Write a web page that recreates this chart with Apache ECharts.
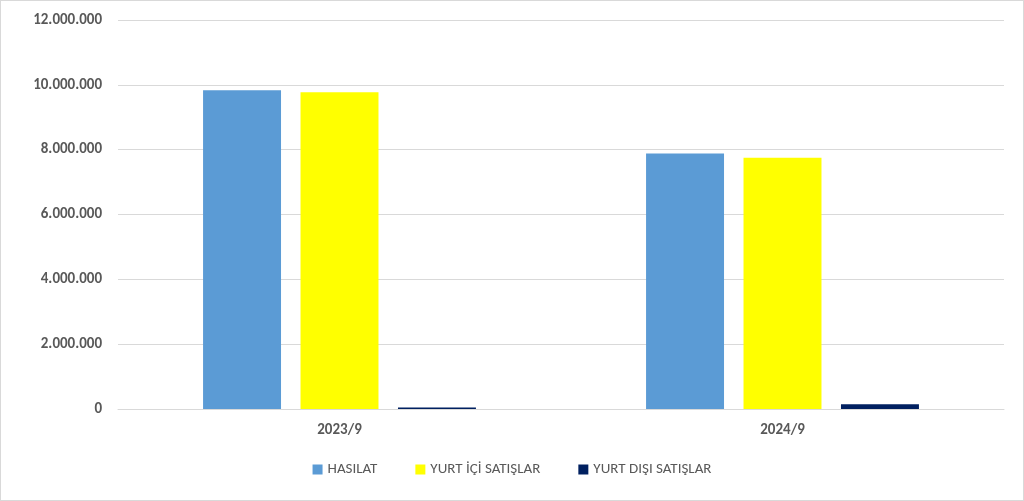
<!DOCTYPE html><html><head><meta charset="utf-8"><script src="https://cdn.jsdelivr.net/npm/echarts@6/dist/echarts.min.js"></script>
<style>body{margin:0}#c{width:1022px;height:499px;border:1px solid #d9d9d9}</style></head><body><div id="c"></div><script>
const categories=['2023/9','2024/9'];
const hasilat=[9830000,7880000];
const yurtIci=[9770000,7750000];
const yurtDisi=[50000,150000];
const c=echarts.init(document.getElementById('c'));
const fmt=v=>v.toString().replace(/\B(?=(\d{3})+(?!\d))/g,'.');
const font={fontFamily:'Calibri, Carlito, "Liberation Sans", sans-serif',fontWeight:'bold',color:'#595959',fontSize:15};
c.setOption({animation:false,
grid:{left:117,right:19,top:19,bottom:91},
legend:{bottom:18,itemWidth:10,itemHeight:10,itemGap:38,icon:'rect',textStyle:{...font,fontWeight:'normal',fontSize:15},data:['HASILAT','YURT İÇİ SATIŞLAR','YURT DIŞI SATIŞLAR']},
xAxis:{type:'category',data:categories,axisTick:{show:false},axisLine:{lineStyle:{color:'#d9d9d9'}},axisLabel:{...font,margin:14}},
yAxis:{type:'value',min:0,max:12000000,interval:2000000,splitLine:{lineStyle:{color:'#d9d9d9'}},axisLabel:{...font,formatter:fmt,margin:16}},
series:[
{name:'HASILAT',type:'bar',data:hasilat,itemStyle:{color:'#5b9bd5'},barWidth:'17.6%',barGap:'25%'},
{name:'YURT İÇİ SATIŞLAR',type:'bar',data:yurtIci,itemStyle:{color:'#ffff00'},barWidth:'17.6%',barGap:'25%'},
{name:'YURT DIŞI SATIŞLAR',type:'bar',data:yurtDisi,itemStyle:{color:'#002060'},barWidth:'17.6%',barGap:'25%'}]});
</script></body></html>
